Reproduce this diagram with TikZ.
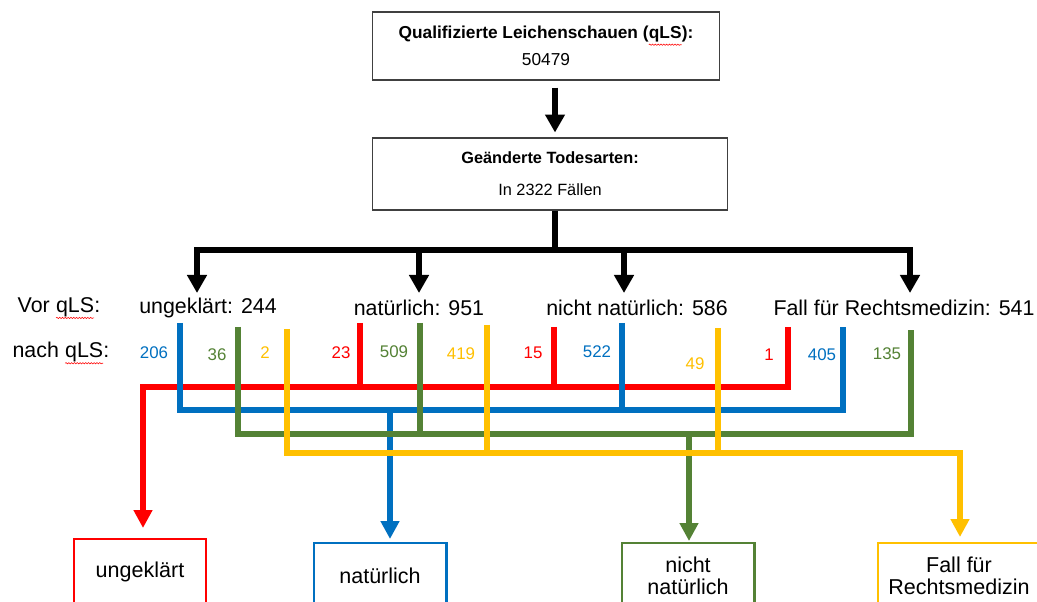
\documentclass[tikz,border=0pt]{standalone}
\usepackage{fontspec}
\setmainfont{Liberation Sans}
\usepackage{tikz}
\usetikzlibrary{arrows.meta, decorations.pathmorphing}
\definecolor{QRed}{HTML}{FF0000}
\definecolor{QBlue}{HTML}{0070C0}
\definecolor{QGreen}{HTML}{548235}
\definecolor{QYellow}{HTML}{FFC000}
\definecolor{BoxGrey}{HTML}{404040}
% red spell-check wave under qLS
\newcommand{\spellerr}[1]{\tikz[baseline=(sp.base)]{\node[inner sep=0pt, outer sep=0pt, minimum width=0pt, minimum height=0pt, draw=none, fill=none] (sp) {#1};
  \draw[QRed, line width=0.4pt, decorate, decoration={snake, amplitude=0.45pt, segment length=2pt}]
    ([yshift=-4.2pt]sp.base west) -- ([yshift=-4.2pt]sp.base east);}}

\begin{document}
\begin{tikzpicture}[
  x=0.025cm, y=-0.025cm,
  topbox/.style={
    rectangle, draw=BoxGrey, line width=0.8pt,
    align=center, inner sep=0pt
  },
  catlabel/.style={font=\fontsize{15.2}{18}\selectfont, inner sep=0pt},
  num/.style={font=\fontsize{12}{14}\selectfont, text=#1, inner sep=0pt},
  resbox/.style={
    rectangle, draw=#1, line width=2.1pt, fill=white,
    minimum width=3.3cm, minimum height=1.65cm,
    align=center, font=\fontsize{15.3}{16}\selectfont, inner sep=0pt
  },
  kline/.style={line width=4.6pt, draw=black},
  karr/.style={kline, -{Triangle[length=12.8pt, width=13.5pt]}},
  busline/.style={line width=3.9pt, draw=#1},
  busarr/.style={busline=#1, -{Triangle[length=12.7pt, width=12.7pt]}},
]
\fill[white] (0,0) rectangle (1037,602);
\clip (0,0) rectangle (1037,602);

% Top boxes
\node[topbox, minimum width=8.675cm, minimum height=1.7cm, font=\fontsize{12.3}{19}\selectfont] (qls) at (546,46)
  {\textbf{Qualifizierte Leichenschauen (\spellerr{qLS}):}\\50479};
\node[topbox, minimum width=8.875cm, minimum height=1.8cm, font=\fontsize{11.6}{22.7}\selectfont] (todes) at (550,174)
  {\textbf{Geänderte Todesarten:}\\In 2322 Fällen};

% Categories before / after
\node[catlabel] (vor) at (59,308) {Vor \spellerr{qLS}:};
\node[catlabel] (nach) at (61,353) {nach \spellerr{qLS}:};
\node[catlabel] (cu) at (208,308) {ungeklärt: 244};
\node[catlabel] (cn) at (419,308) {natürlich: 951};
\node[catlabel] (cx) at (637,308) {nicht natürlich: 586};
\node[catlabel] (cf) at (904,308) {Fall für Rechtsmedizin: 541};

% Numbers after qLS
\node[num=QBlue] (n206) at (154,353) {206};
\node[num=QGreen] (n36) at (217,355) {36};
\node[num=QYellow] (n2) at (265,353) {2};
\node[num=QRed] (n23) at (341,353) {23};
\node[num=QGreen] (n509) at (394,352) {509};
\node[num=QYellow] (n419) at (461,354) {419};
\node[num=QRed] (n15) at (533,353) {15};
\node[num=QBlue] (n522) at (597,352) {522};
\node[num=QYellow] (n49) at (695,364) {49};
\node[num=QRed] (n1) at (769,355) {1};
\node[num=QBlue] (n405) at (822,355) {405};
\node[num=QGreen] (n135) at (887,354) {135};

% Result boxes
\node[resbox=QRed] (ub) at (140,572) {ungeklärt};
\node[resbox=QBlue] (nb) at (380,576) {natürlich};
\node[resbox=QGreen] (xb) at (688,576) {nicht\\natürlich};
\node[resbox=QYellow, minimum width=4.05cm] (fb) at (959,576) {Fall für\\Rechtsmedizin};

% Black arrows
\coordinate (kx) at (555,0);
\coordinate (kbus) at (0,250);
\coordinate (tu) at (197,293);
\coordinate (tn) at (419,293);
\coordinate (tx) at (624,293);
\coordinate (tf) at (910,293);
\draw[karr, shorten <=5pt, shorten >=3.5pt] (qls.south -| kx) -- (todes.north -| kx);
\draw[kline] (todes.south -| kx) -- (kx |- kbus);
\draw[kline] (tn |- kbus) -- (tx |- kbus);
\draw[karr] (tn |- kbus) -| (tu);
\draw[karr] (tx |- kbus) -| (tf);
\draw[karr] (tn |- kbus) -- (tn);
\draw[karr] (tx |- kbus) -- (tx);

% Riser tops
\coordinate (uB) at (180,323);
\coordinate (uG) at (238,327);
\coordinate (uY) at (287,329);
\coordinate (nR) at (360,323);
\coordinate (nG) at (420,323);
\coordinate (nY) at (487,325);
\coordinate (xR) at (554,327);
\coordinate (xB) at (622,323);
\coordinate (xY) at (718,328);
\coordinate (fR) at (788,327);
\coordinate (fB) at (843,327);
\coordinate (fG) at (911,330);

% Bus levels and arrow tips
\coordinate (rbus) at (0,387);
\coordinate (bbus) at (0,410);
\coordinate (gbus) at (0,434);
\coordinate (ybus) at (0,453);
\coordinate (rT) at (143,528);
\coordinate (bT) at (390,539);
\coordinate (gT) at (689,541);
\coordinate (yT) at (960,537);

% Red -> ungeklaert
\draw[busarr=QRed] (fR) |- (rT |- rbus) -- (rT);
\draw[busline=QRed] (nR) -- (nR |- rbus);
\draw[busline=QRed] (xR) -- (xR |- rbus);

% Blue -> natuerlich
\draw[busline=QBlue] (uB) |- (fB |- bbus) -- (fB);
\draw[busline=QBlue] (xB) -- (xB |- bbus);
\draw[busarr=QBlue] (bT |- bbus) -- (bT);

% Green -> nicht natuerlich
\draw[busline=QGreen] (uG) |- (fG |- gbus) -- (fG);
\draw[busline=QGreen] (nG) -- (nG |- gbus);
\draw[busarr=QGreen] (gT |- gbus) -- (gT);

% Yellow -> Rechtsmedizin
\draw[busarr=QYellow] (uY) |- (yT |- ybus) -- (yT);
\draw[busline=QYellow] (nY) -- (nY |- ybus);
\draw[busline=QYellow] (xY) -- (xY |- ybus);

\end{tikzpicture}
\end{document}
